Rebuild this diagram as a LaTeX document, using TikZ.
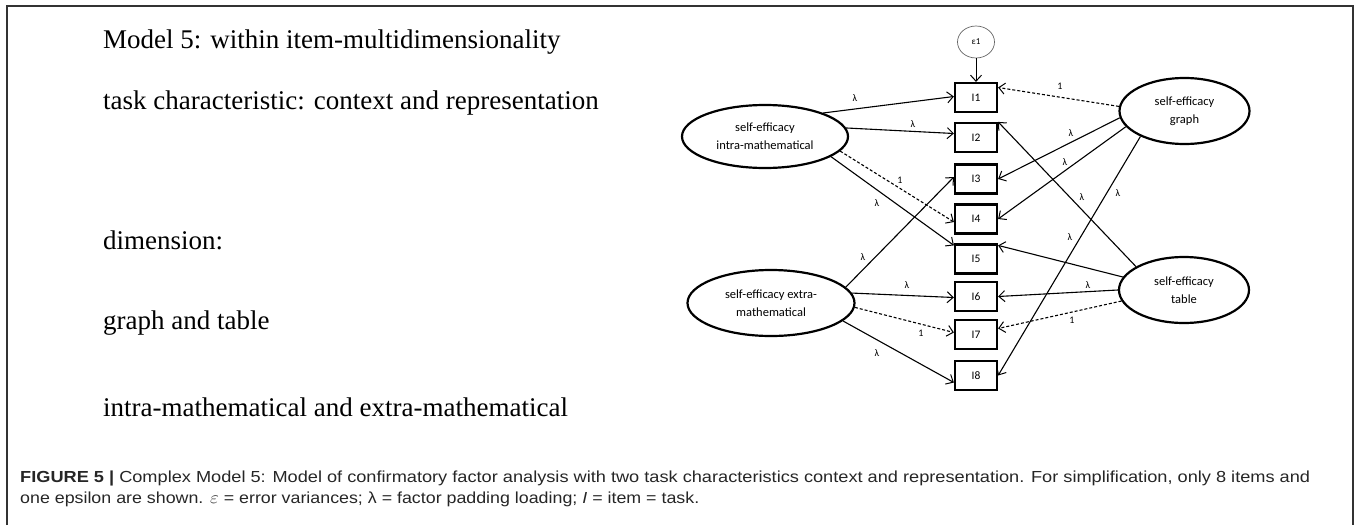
\documentclass[tikz,border=0pt]{standalone}
\usepackage{fontspec}
\usepackage{graphicx}
\setmainfont{Liberation Serif}
\newfontfamily\carl{Carlito}
\newfontfamily\capf{Liberation Sans}
\usetikzlibrary{shapes.geometric,arrows.meta}
\tikzset{
  item/.style={draw, line width=2.2pt, minimum width=42pt, minimum height=29pt, inner sep=0pt, font=\carl\fontsize{11.5}{13}\selectfont},
  lat/.style={draw, ellipse, line width=2.2pt, inner sep=0pt, align=center, font=\carl\fontsize{12.5}{18}\selectfont},
  lnk/.style={line width=1.1pt, -{Straight Barb[length=6pt,width=11pt,line width=1pt]}},
  dsh/.style={lnk, dash pattern=on 3pt off 2pt},
  lab/.style={font=\carl\fontsize{10}{11}\selectfont, inner sep=0pt},
  lefttxt/.style={anchor=base west, inner sep=0pt, font=\fontsize{27}{32}\selectfont},
  captxt/.style={anchor=base west, inner sep=0pt, text=black!85}
}
\begin{document}
\begin{tikzpicture}[x=1pt,y=-1pt]
\useasboundingbox (0,0) rectangle (1357,525);
% frame
\draw[line width=1.2pt, black!80] (7,525) -- (7,6) -- (1353,6) -- (1353,525);
% left texts
\node[lefttxt] (t1) at (103,48) {Model 5: within item-multidimensionality};
\node[lefttxt] (t2) at (103,109) {task characteristic: context and representation};
\node[lefttxt] (t3) at (103,249) {dimension:};
\node[lefttxt] (t4) at (103,329) {graph and table};
\node[lefttxt] (t5) at (103,416) {intra-mathematical and extra-mathematical};
% caption
\node[captxt] (c1) at (20,482) {\resizebox{1290pt}{\height}{\capf\fontsize{16}{19}\selectfont\textbf{FIGURE 5 |} Complex Model 5: Model of confirmatory factor analysis with two task characteristics context and representation. For simplification, only 8 items and}};
\node[captxt] (c2) at (20,503) {\resizebox{679pt}{\height}{\capf\fontsize{16}{19}\selectfont one epsilon are shown. $\varepsilon$ = error variances; λ = factor padding loading; \textit{I} = item = task.}};
% items
\node[item] (I1) at (976,97.5) {I1};
\node[item] (I2) at (976,137.5) {I2};
\node[item] (I3) at (976,179) {I3};
\node[item] (I4) at (976,219) {I4};
\node[item] (I5) at (976,259) {I5};
\node[item] (I6) at (976,296.5) {I6};
\node[item] (I7) at (976,334.5) {I7};
\node[item] (I8) at (976,375.5) {I8};
% error
\node[draw=black!60, ellipse, line width=0.7pt, minimum width=37pt, minimum height=32pt, inner sep=0pt, font=\carl\fontsize{9}{10}\selectfont] (e1) at (976,42) {ε1};
\draw[lnk, line width=0.9pt] (e1) -- (I1);
% latent factors
\node[lat, minimum width=166pt, minimum height=63pt] (intra) at (765,136.5) {self-efficacy\\intra-mathematical};
\node[lat, minimum width=167pt, minimum height=66pt] (extra) at (771,303) {self-efficacy extra-\\mathematical};
\node[lat, minimum width=130pt, minimum height=66pt] (graph) at (1184.5,111) {self-efficacy\\graph};
\node[lat, minimum width=130pt, minimum height=66pt] (table) at (1184,290) {self-efficacy\\table};
% intra
\draw[lnk] (intra.22) -- ([yshift=1pt]I1.west);
\draw[lnk] (intra.6) -- ([yshift=4pt]I2.west);
\draw[dsh] (intra.-11) -- ([yshift=-3pt]I4.west);
\draw[lnk] (intra.-17) -- ([yshift=-2pt]I5.north west);
% extra
\draw[lnk] (extra.12) -- ([yshift=2pt]I3.west);
\draw[lnk] (extra.7) -- ([yshift=-1pt]I6.west);
\draw[dsh] (extra.-3) -- ([yshift=2pt]I7.west);
\draw[lnk] (extra.-14) -- ([yshift=-7pt]I8.west);
% graph
\draw[dsh] (graph.176) -- ([yshift=10pt]I1.east);
\draw[lnk] (graph.186) -- (I3.east);
\draw[lnk] (graph.195) -- (I4.east);
\draw[lnk] (graph.210) -- (I8.east);
% table
\draw[lnk] (table.154) -- (I2.north east);
\draw[lnk] (table.168) -- ([yshift=-2pt]I5.north east);
\draw[lnk] (table.180) -- (I6.east);
\draw[dsh] (table.190) -- ([yshift=6pt]I7.east);
% labels
\node[lab] (l1) at (855,98) {λ};
\node[lab] (l2) at (913,124) {λ};
\node[lab] (l3) at (900,180) {1};
\node[lab] (l4) at (877,203) {λ};
\node[lab] (l5) at (863,257) {λ};
\node[lab] (l6) at (907,285) {λ};
\node[lab] (l7) at (921,333) {1};
\node[lab] (l8) at (877,353) {λ};
\node[lab] (r9) at (1060,86) {1};
\node[lab] (r10) at (1071,133) {λ};
\node[lab] (r11) at (1065,162) {λ};
\node[lab] (r12) at (1118,193) {λ};
\node[lab] (r13) at (1082,197) {λ};
\node[lab] (r14) at (1070,237) {λ};
\node[lab] (r15) at (1088,285) {λ};
\node[lab] (r16) at (1072,320) {1};
\end{tikzpicture}
\end{document}
